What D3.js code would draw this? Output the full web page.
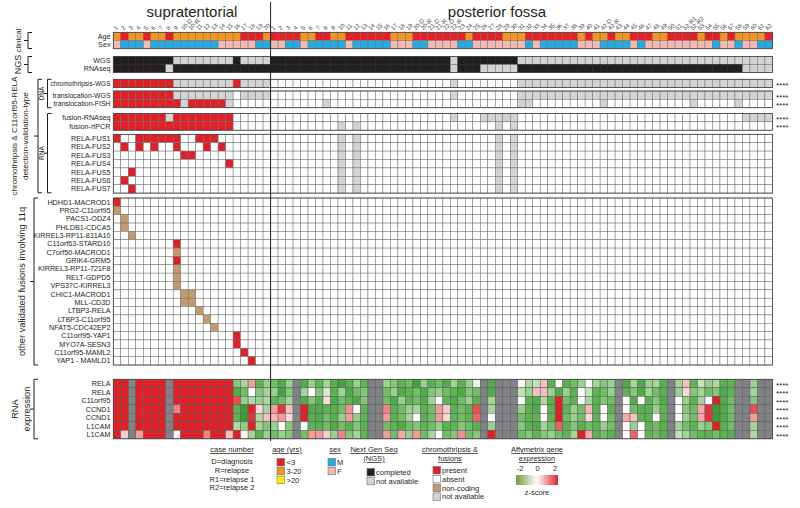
<!DOCTYPE html>
<html><head><meta charset="utf-8">
<script src="https://cdn.jsdelivr.net/npm/d3@7"></script>
<style>body{margin:0;background:#fff}text{font-family:"Liberation Sans",Arial,sans-serif}</style>
</head><body><svg id="c" width="800" height="508"></svg>
<script>
// ---------------- DATA ----------------
const stCases=["1","2","3","4","5","6","7","8","9","10-D","10-R","11","12","13","14","15","16","17","18","19","20"];
const pfCases=["1","2","3","4","5","6","7","8","9","10","11","12","13","14","15","16","17","18","19","20-D","20-R","21-D","21-R","22-D","22-R","23","24","25","26","27","28","29","30","31","32","33","34","35","36","37","38","39","40","41","42-D","42-R","43","44","45","46","47","48","49","50","51","52-R1","52-R2","53","54","55","56","57","58","59","60","61","62"];
// codes: ST (21 cols) | PF (67 cols); spaces ignored
// Age: R <3, O 3-20, Y >20 ; Sex: M / F
const ageCodes="OROOROOROO OOOOOOORRR O|RRRROORROO RRRRRROOOR RRRRRRORRR ROOORRRRRR ROROOROORR ROORRRRORR OROOOOR";
const sexCodes="FMMMFMMMMM MMMMFFFFFM M|FFMMFMMMMM FMMMMMFFFM MFFFFMMFFF FFFFMFMMMM MFFFMMMMFM FFFFFFFFFM FFMFFMM";
// NGS: C completed, X not available
const ngsLabels=["WGS","RNAseq"];
const wgsCodes   ="CCCCCCCCXX XXXXXXCXXX X|CCCCCCCCCC CCCCCCCCCC CCCCXCCCCC CCCXXXXXXX XXXXXXXXXX XXXXXXXXXX XXXXXXX";
const rnaseqCodes="CCCCCCCXCC CCCCCCCCCC C|CCCCCCCCCC CCCCCCCCCC CCCCXCCCXX XXXCCCCCCC CCCCCCCCCC CCCCCCCCCC CCCXXXX";
// chromothripsis & fusions: P present, A absent, N non-coding, X not available
const dnaLabels=["chromothripsis-WGS","translocation-WGS","translocation-FISH"];
const dnaCodes=[
 "PPPPPPPPXX XXXXXXPXXX X|AAAAAAAAAA AAAAAAAAAA AAAAXAAAAA AAAXXXXXXX XXXXXXXXXX XXXXXXXXXX XXXXXXX",
 "PPPPPPPPXX XXXXXXAXXX X|AAAAAAAAAA AAAAAAAAAA AAAAXAAAAA AAAXXXXXXX XXXXXXXXXX XXXXXXXXXX XXXXXXX",
 "PPPPPPPPPX PPPPPXAAAA A|AAAAAAAXAA AAAAAAAAAA AAAAAAAAAA AAAXXAAAAA AAAAXAAAAA AAAAAAXAAA AAXAAAA"];
const rnaFusLabels=["fusion-RNAseq","fusion-rtPCR"];
const rnaFusCodes=[
 "PPPPPPPXPP PPPPPPAAAA A|AAAAAAAAAA AAAAAAAAAA AAAAXAAAXX XXXAAAAAAA AAAAAAAAAA AAAAAAAAAA AAAXXXX",
 "PPPPPPPPPP PPPPPPAAAA A|AAAAAAAAAX AXAAAAAAAA AAAAAAAAAA XAXAAAAAAA AAAAAAAAAA AAAAAAAAAA AAAAAAA"];
const relaLabels=["RELA-FUS1","RELA-FUS2","RELA-FUS3","RELA-FUS4","RELA-FUS5","RELA-FUS6","RELA-FUS7"];
const relaST=["PAAPPPPPPA APPPAAAAAA A","APAPAPAAPA AAPAPAAAAA A","AAAAAAAAAP PAAAAAAAAA A","AAAAAAAAAA AAAAAPAAAA A","AAPAAAAAAA AAAAAAAAAA A","APAAAAAAAA AAAAAAAAAA A","AAPAAAAAAA AAAAAAAAAA A"];
const relaPF="AAAAAAAAAX AXAAAAAAAA AAAAAAAAAA XAXAAAAAAA AAAAAAAAAA AAAAAAAAAA AAAAAAA";
const otherLabels=["HDHD1-MACROD1","PRG2-C11orf95","PACS1-ODZ4","PHLDB1-CDCA5","KIRREL3-RP11-831A10","C11orf63-STARD10","C7orf50-MACROD1","GRIK4-GRM5","KIRREL3-RP11-721F8","RELT-GDPD5","VPS37C-KIRREL3","CHIC1-MACROD1","MLL-CD3D","LTBP3-RELA","LTBP3-C11orf95","NFAT5-CDC42EP2","C11orf95-YAP1","MYO7A-SESN3","C11orf95-MAML2","YAP1 - MAMLD1"];
const otherHits=[[[0,"P"]],[[0,"N"]],[[1,"N"]],[[1,"N"]],[[2,"N"]],[[8,"P"]],[[8,"N"]],[[8,"P"]],[[8,"N"]],[[8,"N"]],[[8,"N"]],[[9,"N"],[10,"N"]],[[9,"N"],[10,"N"]],[[11,"N"]],[[12,"N"]],[[13,"N"]],[[16,"P"]],[[16,"P"]],[[17,"P"]],[[18,"P"]]];
// RNA expression z-scores (null = not available)
const exprLabels=["RELA","RELA","C11orf95","CCND1","CCND1","L1CAM","L1CAM"];
const n=null;
const exprRELA1=[2.5,2.5,n,2.5,2.5,2.5,2.5,n,2.5,2.5,2.5,2.5,2.5,2.5,2.5,2.5,-0.8,-0.5,0.8,-1.2,-0.6,
 -1.0,-1.5,-0.6,n,-1.5,-0.6,-1.2,-0.5,-1.3,-1.8,-1.3,-0.6,-1.2,n,n,-0.6,-0.8,-1.3,-1.0,-1.8,-0.6,-1.3,-1.0,-1.5,-0.5,-1.3,-0.6,-0.1,n,-1.5,n,n,n,0.1,-0.4,-0.3,0.5,-1.3,0.0,-1.3,-1.0,-0.6,0.0,-0.5,-0.8,-0.6,n,-1.5,-0.5,-1.5,-0.6,-0.5,-1.3,n,-0.5,0.5,-1.2,-0.3,-0.6,-0.4,-1.3,-1.2,n,n,-0.6,n,n];
const exprRELA2=[2.5,2.5,n,2.5,2.5,2.5,2.5,n,2.5,2.5,2.5,2.5,2.5,2.5,2.5,2.5,-1.5,-1.0,0.0,-0.8,-0.5,
 -0.6,-1.8,-0.8,n,-0.5,0.0,-0.8,-0.2,-1.2,-0.5,-1.5,-1.0,-0.8,n,n,-1.0,-0.6,-1.5,-1.2,-1.0,-1.5,-0.8,-0.6,-1.0,-1.2,-1.6,-0.8,-1.0,n,-1.5,n,n,n,-0.3,-0.6,0.5,0.5,-0.6,-1.5,-0.6,-1.3,0.0,-0.3,-1.2,-1.0,-0.6,n,-1.2,-0.8,-1.5,-0.5,-1.0,-1.3,n,-0.6,0.3,-0.8,-0.5,-1.0,-0.8,-1.5,-1.2,n,n,-0.5,n,n];
const exprC11=[2.5,2.5,n,2.5,2.5,2.5,2.5,n,2.5,2.5,2.5,2.5,2.5,2.5,2.5,2.5,1.5,-0.6,-0.4,-0.6,-0.4,
 -1.2,-1.0,-0.5,n,-1.5,-0.8,-1.3,0.3,-1.5,-1.0,-1.2,-1.5,-0.8,n,n,-1.0,-1.5,-0.6,-1.2,-1.0,-1.5,-0.5,0.0,-1.2,-1.5,-1.0,-0.6,-1.3,n,-0.5,n,n,n,0.0,-1.2,-1.5,-0.4,-1.3,2.0,-1.0,-1.2,0.0,-0.5,-1.3,-0.8,-1.0,n,0.0,-1.5,0.0,-1.3,-0.8,-1.5,n,0.0,-0.6,-1.3,-0.5,0.0,2.0,-1.5,-1.0,n,n,-0.8,n,n];
const exprCCND1a=[2.5,2.5,n,2.5,2.5,2.5,2.5,n,1.0,2.5,2.5,2.5,2.5,2.5,2.5,2.5,-1.3,-2.0,2.0,0.3,-0.5,
 0.8,1.8,0.5,n,2.0,-1.5,-1.5,-1.2,-1.3,-1.0,0.9,0.0,-1.2,n,n,1.0,-1.3,-1.0,-0.6,-0.5,-1.3,-1.0,0.8,0.4,-1.3,-1.0,-1.2,1.5,n,-0.5,n,n,n,-0.6,-1.2,-1.5,0.0,-1.3,2.0,-1.2,-0.6,-1.0,0.6,-1.3,0.0,-1.2,n,0.0,-1.0,-1.3,-1.3,-0.6,-1.2,n,0.0,-0.8,-1.0,0.7,1.8,-2.2,-1.5,-1.0,n,n,1.5,n,n];
const exprCCND1b=[2.5,2.5,n,2.5,2.5,2.5,2.5,n,2.5,2.5,2.5,2.5,2.5,2.5,2.5,2.5,-1.2,-2.0,1.8,-0.4,0.5,
 0.6,0.8,0.3,n,2.0,-1.3,-1.5,-1.0,-1.3,-0.6,0.8,-0.6,-1.2,n,n,0.8,-1.3,-1.0,-0.5,0.0,-1.3,-1.0,0.8,0.3,-1.2,-1.0,-1.2,1.3,n,0.0,n,n,n,-1.0,-1.2,-1.2,0.0,-1.2,2.0,-1.0,-0.6,-1.0,0.3,-1.2,0.0,-1.0,n,0.7,0.5,-1.2,-1.3,0.0,-1.2,n,0.0,-0.6,-1.0,0.7,1.8,-2.2,-1.5,-1.0,n,n,0.8,n,n];
const exprL1a=[2.5,2.5,n,2.5,2.5,2.5,2.5,n,2.5,2.5,2.5,2.5,2.5,2.5,2.5,2.5,-0.4,-0.7,2.0,-0.5,-0.8,
 -0.6,0.0,-0.8,n,0.0,-1.2,-1.3,-1.0,-1.5,-1.0,-1.3,-0.8,-1.3,n,n,-1.0,-1.2,-1.5,-1.0,-0.8,-1.2,-1.0,-0.6,-1.3,-1.2,-0.8,-1.0,-1.3,n,-0.6,n,n,n,-0.8,-1.3,-1.5,-0.5,-1.0,1.3,-1.2,-0.8,-1.3,-1.0,-1.2,-0.6,-1.0,n,0.0,-0.6,0.0,-1.2,-1.0,-1.3,n,-0.5,-1.0,-1.2,-0.6,-0.8,2.0,-1.3,-1.0,n,n,-0.5,n,n];
const exprL1b=[2.5,0.4,n,0.8,2.5,2.5,2.5,n,0.1,2.5,2.5,2.5,1.0,2.5,2.5,0.5,2.0,0.1,-0.5,-1.3,-0.6,
 -1.0,-0.6,-0.8,n,-1.0,0.8,0.8,0.4,-0.6,1.0,-0.8,-0.5,-1.2,n,n,0.8,-1.0,0.7,-0.6,0.8,-1.0,-0.5,0.0,-1.0,-0.8,0.9,-1.0,-0.8,n,2.2,n,n,n,-1.0,-0.8,-1.2,-0.8,-0.6,-1.0,-1.2,-0.5,2.0,0.7,-1.2,-1.0,-1.3,n,0.0,1.3,0.0,-1.2,-1.0,-1.3,n,-0.3,-0.5,-1.0,-1.2,-1.3,-1.0,-1.2,-1.3,n,n,-0.4,n,n];
const starRows=["chromothripsis-WGS","translocation-WGS","translocation-FISH","fusion-RNAseq","fusion-rtPCR","RELA","C11orf95","CCND1","L1CAM"];

// ---------------- DRAWING ----------------
const svg=d3.select("#c");
const nCol=stCases.length+pfCases.length;
const x=d3.scaleBand().domain(d3.range(nCol)).range([113.3,772.4]);
const parse=s=>s.replace(/[ |]/g,"").split("");
const fill={R:"#ec1c24",O:"#f7941d",Y:"#fff200",M:"#27aae1",F:"#f6b9b0",C:"#231f20",X:"#d1d3d4",P:"#e31e24",A:"#ffffff",N:"#c49a6c"};
const zcol=d3.scaleLinear().domain([-2,-1.2,-0.4,0,0.5,1.2,2]).range(["#3a9e36","#5db552","#acd9a0","#ffffff","#f7c0c0","#ef6b6e","#e31e24"]).clamp(true);
const gridStroke="#6d6e71";

function block(top,rowH,labels,rows,isExpr,fs){
  const y=d3.scaleBand().domain(d3.range(labels.length)).range([top,top+rowH*labels.length]);
  const g=svg.append("g");
  rows.forEach((vals,i)=>{
    g.selectAll(null).data(vals).enter().append("rect")
     .attr("x",(d,j)=>x(j)).attr("y",y(i)).attr("width",x.bandwidth()).attr("height",y.bandwidth())
     .attr("fill",d=>isExpr?(d===null?"#808285":zcol(d)):fill[d])
     .attr("stroke",d=>(!isExpr&&d==="C")?"#231f20":(isExpr?"#58595b":gridStroke))
     .attr("stroke-width",0.5);
  });
  g.append("rect").attr("x",x(0)).attr("y",top).attr("width",x.range()[1]-x(0)).attr("height",rowH*labels.length)
   .attr("fill","none").attr("stroke","#414042").attr("stroke-width",0.8);
  g.selectAll(null).data(labels).enter().append("text")
   .attr("x",110.5).attr("y",(d,i)=>y(i)+y.bandwidth()/2).attr("dy","0.35em")
   .attr("text-anchor","end").attr("font-size",fs||7.2).attr("fill","#231f20").text(d=>d);
  labels.forEach((l,i)=>{ if(starRows.includes(l)) g.append("text").attr("x",776).attr("y",y(i)+y.bandwidth()/2).attr("dy","0.55em")
     .attr("font-size",8).attr("fill","#231f20").text("****"); });
}

const allOther=otherHits.map(h=>{const a=new Array(nCol).fill("A");h.forEach(([c,t])=>a[c]=t);return a;});

block(32.3,8.2,["Age","Sex"],[parse(ageCodes),parse(sexCodes)],false);
block(56.5,8.0,ngsLabels,[parse(wgsCodes),parse(rnaseqCodes)],false);
block(79.3,8.3,[dnaLabels[0]],[parse(dnaCodes[0])],false,6.5);
block(91,8.35,dnaLabels.slice(1),[parse(dnaCodes[1]),parse(dnaCodes[2])],false,6.9);
block(113.5,8.35,rnaFusLabels,rnaFusCodes.map(parse),false);
block(134.3,8.4,relaLabels,relaST.map(s=>parse(s+"|"+relaPF)),false);
block(198,8.35,otherLabels,allOther,false);
block(379.3,8.5,exprLabels,[exprRELA1,exprRELA2,exprC11,exprCCND1a,exprCCND1b,exprL1a,exprL1b],true);

// case number labels
const caseLabels=stCases.concat(pfCases);
svg.append("g").selectAll("text").data(caseLabels).enter().append("text")
 .attr("transform",(d,i)=>`translate(${x(i)+x.bandwidth()/2-1},30.5) rotate(-45)`)
 .attr("font-size",6).attr("fill","#414042").text(d=>d);

// titles
svg.append("text").attr("x",192).attr("y",17).attr("text-anchor","middle").attr("font-size",15).attr("fill","#231f20").text("supratentorial");
svg.append("text").attr("x",497).attr("y",17).attr("text-anchor","middle").attr("font-size",15).attr("fill","#231f20").text("posterior fossa");

// divider
svg.append("line").attr("x1",x(21)).attr("x2",x(21)).attr("y1",2).attr("y2",441).attr("stroke","#231f20").attr("stroke-width",1);

// brackets
function bracket(bx,y1,y2,lines,txs,fs){
  const ym=(y1+y2)/2;
  svg.append("path").attr("d",`M${bx+4},${y1}H${bx}V${y2}H${bx+4}M${bx},${ym}H${bx-4}`)
   .attr("fill","none").attr("stroke","#231f20").attr("stroke-width",1);
  lines.forEach((t,i)=>svg.append("text").attr("transform",`translate(${txs[i]},${ym}) rotate(-90)`)
   .attr("text-anchor","middle").attr("dy","0.35em").attr("font-size",fs).attr("fill","#231f20").text(t));
}
bracket(28,32.5,48.5,["clinical"],[18],8);
bracket(28,56.5,72.5,["NGS"],[18],9);
bracket(38,79.3,192.8,["chromothripsis & C11orf95-RELA","detection-validation-type"],[14,25],8.1);
bracket(47.5,79.3,107.7,["DNA"],[41.5],6.5);
bracket(47.5,113.5,192.8,["RNA"],[41.5],6.5);
bracket(34,198,365,["other validated fusions involving 11q"],[22],9.3);
bracket(34,379.3,438.8,["RNA","expression"],[15,27],9.3);

// ---------------- LEGEND ----------------
const lg=svg.append("g").attr("font-size",7.5).attr("fill","#231f20");
function head(cx,y,t){lg.append("text").attr("x",cx).attr("y",y).attr("text-anchor","middle").style("text-decoration","underline").text(t);}
head(232,452,"case number");
["D=diagnosis","R=relapse","R1=relapse 1","R2=relapse 2"].forEach((t,i)=>lg.append("text").attr("x",232).attr("y",464+i*8.8).attr("text-anchor","middle").text(t));
head(287,452,"age (yrs)");
[["#ec1c24","<3"],["#f7941d","3-20"],["#fff200",">20"]].forEach(([c,t],i)=>{
  lg.append("rect").attr("x",277).attr("y",458.5+i*8.8).attr("width",7.5).attr("height",7.5).attr("fill",c).attr("stroke","#6d6e71").attr("stroke-width",0.6);
  lg.append("text").attr("x",286.5).attr("y",465+i*8.8).text(t);});
head(335,452,"sex");
[["#27aae1","M"],["#f6b9b0","F"]].forEach(([c,t],i)=>{
  lg.append("rect").attr("x",328).attr("y",458.5+i*8.8).attr("width",7.5).attr("height",7.5).attr("fill",c).attr("stroke","#6d6e71").attr("stroke-width",0.6);
  lg.append("text").attr("x",337).attr("y",465+i*8.8).text(t);});
head(374,452,"Next Gen Seq");
head(374,461,"(NGS)");
[["#231f20","completed"],["#d1d3d4","not available"]].forEach(([c,t],i)=>{
  lg.append("rect").attr("x",367).attr("y",468.5+i*8.8).attr("width",7.5).attr("height",7.5).attr("fill",c).attr("stroke","#6d6e71").attr("stroke-width",0.6);
  lg.append("text").attr("x",376).attr("y",475+i*8.8).text(t);});
head(450,452,"chromothripsis &");
head(450,461,"fusions");
[["#e31e24","present"],["#ffffff","absent"],["#c49a6c","non-coding"],["#d1d3d4","not available"]].forEach(([c,t],i)=>{
  lg.append("rect").attr("x",433).attr("y",466.5+i*8.8).attr("width",7.5).attr("height",7.5).attr("fill",c).attr("stroke","#6d6e71").attr("stroke-width",0.6);
  lg.append("text").attr("x",442).attr("y",473+i*8.8).text(t);});
head(537,452,"Affymetrix gene");
head(537,461,"expression");
const zx=d3.scaleLinear().domain([-2,2]).range([520,555]);
[-2,0,2].forEach(v=>lg.append("text").attr("x",zx(v)).attr("y",471).attr("text-anchor","middle").text(v));
const defs=svg.append("defs");
const gr=defs.append("linearGradient").attr("id","zg");
[["0","#6f9a3a"],["0.5","#ffffff"],["1","#e31e24"]].forEach(([o,c])=>gr.append("stop").attr("offset",o).attr("stop-color",c));
lg.append("rect").attr("x",516).attr("y",475).attr("width",42).attr("height",10).attr("fill","url(#zg)");
lg.append("text").attr("x",537).attr("y",495).attr("text-anchor","middle").text("z-score");
</script></body></html>
